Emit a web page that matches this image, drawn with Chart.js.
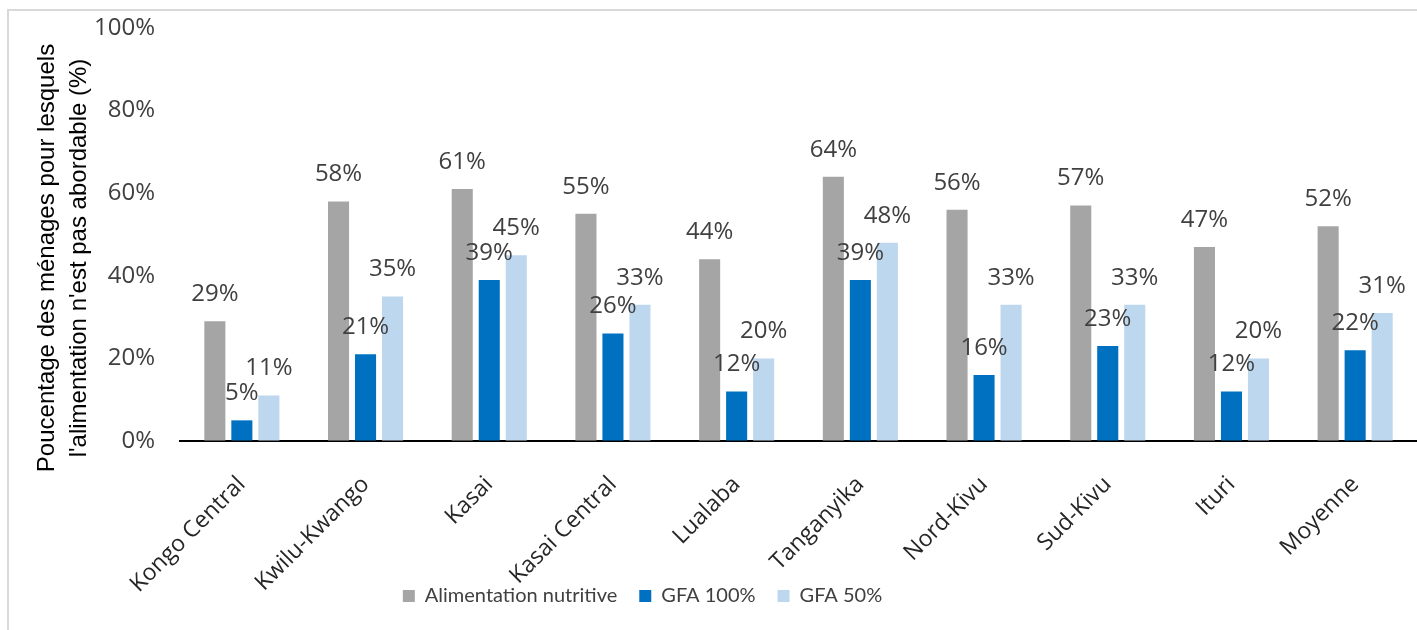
<!DOCTYPE html>
<html lang="fr">
<head>
<meta charset="utf-8">
<title>Accessibilité de l'alimentation</title>
<script src="https://cdn.jsdelivr.net/npm/chart.js@4.4.1/dist/chart.umd.min.js"></script>
<style>
  html, body { margin: 0; padding: 0; background: #fff; }
  #wrap { position: relative; width: 1417px; height: 630px; }
</style>
</head>
<body>
<div id="wrap"><canvas id="chart" width="1417" height="630"></canvas></div>
<script>
// ---------- DONNÉES ----------
const provinces = ['Kongo Central', 'Kwilu-Kwango', 'Kasai', 'Kasai Central', 'Lualaba',
  'Tanganyika', 'Nord-Kivu', 'Sud-Kivu', 'Ituri', 'Moyenne'];
const alimentationNutritive = [29, 58, 61, 55, 44, 64, 56, 57, 47, 52];
const gfa100 = [5, 21, 39, 26, 12, 39, 16, 23, 12, 22];
const gfa50 = [11, 35, 45, 33, 20, 48, 33, 33, 20, 31];
const yTicks = [0, 20, 40, 60, 80, 100];
const yTitle = ['Poucentage des ménages pour lesquels', "l'alimentation n'est pas abordable (%)"];

const FONT = "'Open Sans', 'Noto Sans', sans-serif";
const TXT = '#404040';
const LEGEND_SIZE = 20;

// cadre gris clair (haut + gauche)
const framePlugin = {
  id: 'frame',
  beforeDraw(chart) {
    const ctx = chart.ctx;
    ctx.save();
    ctx.strokeStyle = '#d9d9d9';
    ctx.lineWidth = 2;
    ctx.beginPath();
    ctx.moveTo(8, chart.height);
    ctx.lineTo(8, 10);
    ctx.lineTo(chart.width, 10);
    ctx.stroke();
    ctx.restore();
  }
};

// étiquettes de valeur au-dessus des barres
const valueLabels = {
  id: 'valueLabels',
  afterDatasetsDraw(chart) {
    const ctx = chart.ctx;
    ctx.save();
    ctx.font = '24px ' + FONT;
    ctx.fillStyle = TXT;
    ctx.textAlign = 'center';
    ctx.textBaseline = 'middle';
    chart.data.datasets.forEach((ds, i) => {
      chart.getDatasetMeta(i).data.forEach((bar, j) => {
        ctx.fillText(ds.data[j] + '%', bar.x, bar.y - 27);
      });
    });
    ctx.restore();
  }
};

// titre de l'axe vertical sur deux lignes
const yTitlePlugin = {
  id: 'yTitle',
  afterDraw(chart) {
    const ctx = chart.ctx;
    ctx.save();
    ctx.font = "24px 'Liberation Sans', Arial, sans-serif";
    ctx.fillStyle = '#000';
    ctx.textAlign = 'center';
    ctx.textBaseline = 'middle';
    yTitle.forEach((line, k) => {
      ctx.save();
      ctx.translate(47 + k * 32, 258);
      ctx.rotate(-Math.PI / 2);
      ctx.fillText(line, 0, 0);
      ctx.restore();
    });
    ctx.restore();
  }
};

// place la légende sous les étiquettes (centre vertical à y = 595)
const legendShift = {
  id: 'legendShift',
  afterLayout(chart) {
    const lg = chart.legend;
    const pad = lg.options.labels.padding;
    const dy = 598 - (lg.top + pad + LEGEND_SIZE * 1.2 / 2);
    lg.top += dy;
    lg.bottom += dy;
    lg.left -= 66;
    lg.right -= 66;
  }
};

const ctx = document.getElementById('chart').getContext('2d');
new Chart(ctx, {
  type: 'bar',
  data: {
    labels: provinces,
    datasets: [
      { label: 'Alimentation nutritive', data: alimentationNutritive, backgroundColor: '#a5a5a5' },
      { label: 'GFA 100%', data: gfa100, backgroundColor: '#0070c0' },
      { label: 'GFA 50%', data: gfa50, backgroundColor: '#bdd7ee' }
    ]
  },
  options: {
    responsive: false,
    animation: false,
    layout: { padding: { top: 28, bottom: -40, left: 0, right: 0 } },
    datasets: {
      bar: { categoryPercentage: 0.655, barPercentage: 0.78 }
    },
    plugins: {
      legend: {
        position: 'bottom',
        labels: {
          font: { family: "Lato, 'Open Sans', sans-serif", size: LEGEND_SIZE },
          color: TXT,
          boxWidth: 12,
          boxHeight: 12,
          padding: 22
        }
      },
      tooltip: { enabled: false }
    },
    scales: {
      x: {
        grid: { display: false, drawTicks: false },
        border: { color: '#000', width: 2 },
        ticks: {
          font: { family: FONT, size: 23 },
          color: '#262626',
          maxRotation: 45,
          minRotation: 45,
          padding: 30
        },
        afterFit(scale) { scale.height = 177; }
      },
      y: {
        min: 0,
        max: 100,
        afterBuildTicks(scale) { scale.ticks = yTicks.map(v => ({ value: v })); },
        grid: { display: true, drawOnChartArea: false, drawTicks: true, tickLength: 25, tickColor: 'rgba(0,0,0,0)' },
        border: { display: false },
        ticks: {
          font: { family: FONT, size: 24 },
          color: TXT,
          padding: 0,
          callback: v => v + '%'
        },
        afterFit(scale) { scale.width = 180; }
      }
    }
  },
  plugins: [framePlugin, valueLabels, yTitlePlugin, legendShift]
});
</script>
</body>
</html>
